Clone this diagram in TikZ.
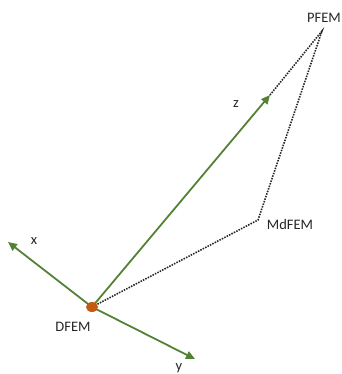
\documentclass[tikz,border=0pt]{standalone}
\usepackage{fontspec}
\setmainfont{Carlito}
\usetikzlibrary{arrows.meta,shapes.geometric}
\definecolor{axgreen}{HTML}{548235}
\definecolor{dotorange}{HTML}{C55A11}
\begin{document}
\begin{tikzpicture}[x=1pt,y=-1pt,
  axis/.style={draw=axgreen,line width=1.8pt,-{Triangle[length=9pt,width=8pt]}},
  dots/.style={draw=black!85,line width=1.6pt,dash pattern=on 1.5pt off 1.2pt},
  lbl/.style={font=\fontsize{14.5}{16}\selectfont,text=black!85,inner sep=0pt}]
\useasboundingbox (0,0) rectangle (341,374);
\coordinate (D) at (92,307);
\coordinate (X) at (8,242);
\coordinate (Y) at (195,359);
\coordinate (Z) at (270,95);
\coordinate (P) at (322,31);
\coordinate (M) at (258,220);
\draw[dots] (Z) -- (P) -- (M) -- (D);
\draw[axis] (D) -- (X);
\draw[axis] (D) -- (Y);
\draw[axis] (D) -- (Z);
\node[draw=none,fill=dotorange,ellipse,minimum width=12pt,minimum height=10pt,inner sep=0pt] (Dd) at (D) {};
\node[lbl] (lp) at (324,18) {PFEM};
\node[lbl] (lz) at (236,104) {z};
\node[lbl] (lm) at (290,225) {MdFEM};
\node[lbl] (lx) at (34,241) {x};
\node[lbl] (ld) at (73,327) {DFEM};
\node[lbl] (ly) at (179,368) {y};
\end{tikzpicture}
\end{document}
